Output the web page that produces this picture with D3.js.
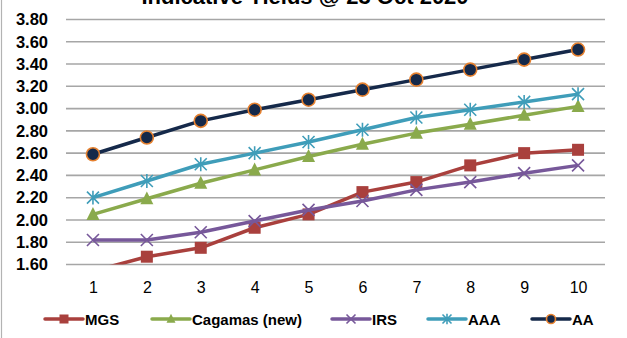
<!DOCTYPE html>
<html>
<head>
<meta charset="utf-8">
<script src="https://cdn.jsdelivr.net/npm/d3@7"></script>
<style>
  html, body { margin: 0; padding: 0; background: #ffffff; }
  svg { display: block; }
  text { font-family: "Liberation Sans", Arial, sans-serif; }
</style>
</head>
<body>
<svg id="chart" width="627" height="338"></svg>
<script>
// Tenor in years
const tenors = [1, 2, 3, 4, 5, 6, 7, 8, 9, 10];

// Indicative yields (%) per tenor
const mgs     = [1.54, 1.67, 1.75, 1.93, 2.05, 2.25, 2.34, 2.49, 2.60, 2.63];
const cagamas = [2.05, 2.19, 2.33, 2.45, 2.57, 2.68, 2.78, 2.86, 2.94, 3.02];
const irs     = [1.82, 1.82, 1.89, 1.99, 2.09, 2.17, 2.27, 2.34, 2.42, 2.49];
const aaa     = [2.20, 2.35, 2.50, 2.60, 2.70, 2.81, 2.92, 2.99, 3.06, 3.13];
const aa      = [2.59, 2.74, 2.89, 2.99, 3.08, 3.17, 3.26, 3.35, 3.44, 3.53];

const seriesNames = ["MGS", "Cagamas (new)", "IRS", "AAA", "AA"];
const yTicks = [1.60, 1.80, 2.00, 2.20, 2.40, 2.60, 2.80, 3.00, 3.20, 3.40, 3.60, 3.80];
const title = "Indicative Yields @ 23 Oct 2020";

const series = [
  { name: seriesNames[0], values: mgs,     color: "#A9403D", marker: "square" },
  { name: seriesNames[1], values: cagamas, color: "#8AAA4C", marker: "triangle" },
  { name: seriesNames[2], values: irs,     color: "#77589A", marker: "x" },
  { name: seriesNames[3], values: aaa,     color: "#3F9DB9", marker: "star" },
  { name: seriesNames[4], values: aa,      color: "#15294A", marker: "circle" }
];

const svg = d3.select("#chart");
const plot = { left: 66, right: 605, top: 19.5, bottom: 264.5 };

const x = d3.scalePoint().domain(tenors).range([plot.left, plot.right]).padding(0.5);
const y = d3.scaleLinear().domain([1.6, 3.8]).range([plot.bottom, plot.top]);

// frame edge on the left
svg.append("line")
  .attr("x1", 1.5).attr("x2", 1.5).attr("y1", 0).attr("y2", 338)
  .attr("stroke", "#b3b3b3").attr("stroke-width", 1.2);

// title (runs past the top edge)
svg.append("text")
  .attr("x", 305).attr("y", 4)
  .attr("text-anchor", "middle")
  .attr("font-size", 22).attr("font-weight", "bold")
  .attr("fill", "#000")
  .text(title);

// series, clipped to the plot area
svg.append("defs").append("clipPath").attr("id", "plotClip")
  .append("rect")
  .attr("x", 0).attr("y", 0)
  .attr("width", 627).attr("height", plot.bottom);

// gridlines
svg.append("g").selectAll("line").data(yTicks).join("line")
  .attr("x1", plot.left).attr("x2", plot.right)
  .attr("y1", d => y(d)).attr("y2", d => y(d))
  .attr("stroke", "#a6a6a6").attr("stroke-width", 1.6);

// y axis labels
const yAxis = d3.axisLeft(y).tickValues(yTicks).tickFormat(d3.format(".2f")).tickSize(0).tickPadding(0);
const yg = svg.append("g").attr("transform", "translate(48,0)").call(yAxis);
yg.select(".domain").remove();
yg.selectAll("text")
  .attr("font-size", 16.5).attr("font-weight", "bold").attr("fill", "#000")
  .attr("font-family", "Liberation Sans, Arial, sans-serif");

// x axis labels
const xAxis = d3.axisBottom(x).tickSize(0).tickPadding(0);
const xg = svg.append("g").attr("transform", "translate(0,282)").call(xAxis);
xg.select(".domain").remove();
xg.selectAll("text")
  .attr("font-size", 16).attr("fill", "#000")
  .attr("font-family", "Liberation Sans, Arial, sans-serif");

const line = d3.line().x((d, i) => x(tenors[i])).y(d => y(d));

function drawMarker(g, type, color, s) {
  if (type === "square") {
    g.append("rect").attr("x", -s / 2).attr("y", -s / 2).attr("width", s).attr("height", s)
      .attr("fill", color);
  } else if (type === "triangle") {
    const h = s * 0.95;
    g.append("path")
      .attr("d", `M0,${-h * 0.6}L${s / 2},${h * 0.45}L${-s / 2},${h * 0.45}Z`)
      .attr("fill", color);
  } else if (type === "x") {
    const r = s / 2;
    g.append("path").attr("d", `M${-r},${-r}L${r},${r}M${-r},${r}L${r},${-r}`)
      .attr("stroke", color).attr("stroke-width", 1.6).attr("fill", "none");
  } else if (type === "star") {
    const r = s / 2;
    g.append("path")
      .attr("d", `M${-r},${-r}L${r},${r}M${-r},${r}L${r},${-r}M0,${-r * 1.15}L0,${r * 1.15}`)
      .attr("stroke", color).attr("stroke-width", 1.6).attr("fill", "none");
  } else if (type === "circle") {
    g.append("circle").attr("r", s / 2).attr("fill", color)
      .attr("stroke", "#E6812F").attr("stroke-width", 1.6);
  }
}

const markerSize = { square: 12, triangle: 13, x: 12, star: 12, circle: 13 };

const sg = svg.append("g").attr("clip-path", "url(#plotClip)");
series.forEach(s => {
  sg.append("path")
    .datum(s.values)
    .attr("d", line)
    .attr("fill", "none")
    .attr("stroke", s.color)
    .attr("stroke-width", 3.5)
    .attr("stroke-linejoin", "round");
  s.values.forEach((v, i) => {
    const g = sg.append("g").attr("transform", `translate(${x(tenors[i])},${y(v)})`);
    drawMarker(g, s.marker, s.color, markerSize[s.marker]);
  });
});

// legend
const legendY = 319;
const legendStarts = [45, 152, 332, 428, 532];
series.forEach((s, i) => {
  const lx = legendStarts[i];
  const g = svg.append("g");
  g.append("line")
    .attr("x1", lx).attr("x2", lx + 38)
    .attr("y1", legendY).attr("y2", legendY)
    .attr("stroke", s.color).attr("stroke-width", 3.5).attr("stroke-linecap", "round");
  const mg = g.append("g").attr("transform", `translate(${lx + 19},${legendY})`);
  drawMarker(mg, s.marker, s.color, 9);
  g.append("text")
    .attr("x", lx + 40).attr("y", legendY + 5.5)
    .attr("font-size", 15).attr("font-weight", "bold").attr("fill", "#000")
    .text(s.name);
});
</script>
</body>
</html>
